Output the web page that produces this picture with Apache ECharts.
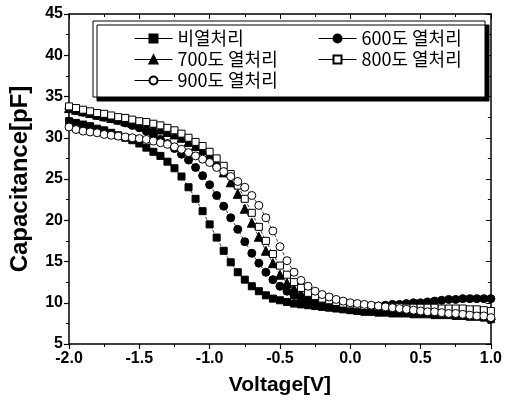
<!DOCTYPE html>
<html>
<head>
<meta charset="utf-8">
<script src="https://cdn.jsdelivr.net/npm/echarts@6/dist/echarts.min.js"></script>
<style>html,body{margin:0;padding:0;background:#fff}#c{width:505px;height:401px}</style>
</head>
<body>
<div id="c"></div>
<script>
var voltage = [-2.0,-1.95,-1.9,-1.85,-1.8,-1.75,-1.7,-1.65,-1.6,-1.55,-1.5,-1.45,-1.4,-1.35,-1.3,-1.25,-1.2,-1.15,-1.1,-1.05,-1.0,-0.95,-0.9,-0.85,-0.8,-0.75,-0.7,-0.65,-0.6,-0.55,-0.5,-0.45,-0.4,-0.35,-0.3,-0.25,-0.2,-0.15,-0.1,-0.05,0.0,0.05,0.1,0.15,0.2,0.25,0.3,0.35,0.4,0.45,0.5,0.55,0.6,0.65,0.7,0.75,0.8,0.85,0.9,0.95,1.0];

var seriesNames = ['비열처리','600도 열처리','700도 열처리','800도 열처리','900도 열처리'];

var noAnneal = [32.0,31.8,31.6,31.4,31.1,30.9,30.6,30.3,30.0,29.7,29.3,28.8,28.3,27.8,27.1,26.3,25.3,24.0,22.6,21.1,19.5,17.9,16.3,14.9,13.7,12.8,12.0,11.4,10.9,10.5,10.3,10.1,9.9,9.8,9.7,9.6,9.5,9.4,9.3,9.2,9.1,9.0,8.9,8.9,8.8,8.8,8.7,8.7,8.7,8.6,8.6,8.6,8.5,8.5,8.5,8.4,8.4,8.3,8.3,8.2,8.0];

var anneal600 = [33.5,33.3,33.1,32.9,32.7,32.5,32.3,32.1,31.8,31.5,31.2,30.8,30.3,29.8,29.3,28.7,28.0,27.3,26.4,25.4,24.3,23.0,21.7,20.3,18.9,17.4,16.0,14.8,13.7,12.8,12.0,11.4,10.9,10.5,10.2,10.0,9.8,9.7,9.6,9.5,9.5,9.5,9.5,9.5,9.6,9.7,9.8,9.8,9.9,10.0,10.0,10.1,10.2,10.3,10.4,10.4,10.5,10.5,10.5,10.5,10.5];

var anneal700 = [33.6,33.4,33.2,33.0,32.8,32.6,32.4,32.2,32.0,31.8,31.6,31.4,31.2,31.0,30.7,30.4,30.0,29.5,29.0,28.5,27.9,27.0,25.8,24.6,23.2,21.4,19.7,18.0,16.3,14.8,13.4,12.4,11.7,11.1,10.7,10.4,10.2,10.0,9.8,9.7,9.6,9.5,9.4,9.3,9.2,9.2,9.1,9.1,9.0,9.0,9.0,8.9,8.9,8.9,8.8,8.8,8.8,8.7,8.7,8.6,8.5];

var anneal800 = [33.8,33.6,33.4,33.2,33.0,32.9,32.7,32.5,32.4,32.2,32.0,31.9,31.7,31.5,31.2,30.9,30.5,30.0,29.5,29.0,28.3,27.5,26.6,25.6,24.2,22.6,20.9,19.2,17.5,15.9,14.5,13.4,12.5,11.8,11.2,10.8,10.5,10.3,10.1,9.9,9.8,9.7,9.6,9.6,9.5,9.5,9.5,9.5,9.4,9.4,9.4,9.4,9.4,9.3,9.3,9.3,9.3,9.2,9.2,9.1,9.0];

var anneal900 = [31.3,31.0,30.8,30.7,30.6,30.4,30.3,30.2,30.1,30.0,29.9,29.8,29.6,29.4,29.2,28.9,28.6,28.2,27.8,27.4,27.0,26.4,25.9,25.3,24.7,24.0,23.0,21.8,20.3,18.7,16.8,15.1,13.7,12.7,12.0,11.4,11.0,10.7,10.4,10.2,10.0,9.9,9.8,9.7,9.6,9.5,9.4,9.3,9.2,9.1,9.0,8.9,8.9,8.8,8.7,8.7,8.6,8.5,8.4,8.4,8.2];

var xTicks = ['-2.0','-1.5','-1.0','-0.5','0.0','0.5','1.0'];
var yTicks = [5,10,15,20,25,30,35,40,45];

var seriesValues = [noAnneal, anneal600, anneal700, anneal800, anneal900];
var symbols = ['rect','circle','triangle','rect','circle'];
var fills = ['#000','#000','#000','#fff','#fff'];
var sizes = [7,8,9,7,8];

function pairs(arr){ return voltage.map(function(v,i){ return [v, arr[i]]; }); }

var series = seriesNames.map(function(name, k){
  return {
    name: name,
    type: 'line',
    data: pairs(seriesValues[k]),
    symbol: symbols[k],
    symbolSize: sizes[k],
    showAllSymbol: true,
    itemStyle: { color: fills[k], borderColor: '#000', borderWidth: 1 },
    lineStyle: { color: '#000', width: 0.8, type: [3,2] },
    emphasis: { disabled: true },
    animation: false,
    z: 2 + k
  };
});

var font = 'Liberation Sans, Arial, sans-serif';
var legendText = { fontSize: 18, color: '#000', fontFamily: 'Noto Sans CJK KR, sans-serif', lineHeight: 21 };

var chart = echarts.init(document.getElementById('c'));
chart.setOption({
  backgroundColor: '#fff',
  animation: false,
  grid: { left: 68, right: 13, top: 14, bottom: 54 },
  xAxis: [{
    type: 'value', min: -2, max: 1, interval: 0.5,
    name: 'Voltage[V]', nameLocation: 'middle', nameGap: 31,
    nameTextStyle: { fontSize: 21, fontWeight: 'bold', fontFamily: font, color: '#000' },
    axisLine: { onZero: false, lineStyle: { color: '#000', width: 1.5 } },
    axisTick: { inside: false, length: 5, lineStyle: { color: '#000', width: 1.2 } },
    minorTick: { show: true, splitNumber: 2, length: 3, lineStyle: { color: '#000', width: 1 } },
    axisLabel: { fontSize: 16, fontWeight: 'bold', fontFamily: font, color: '#000', margin: 7,
      formatter: function(v){ var s = v.toFixed(1); return xTicks.indexOf(s) >= 0 ? s : ''; } },
    splitLine: { show: false }
  },{
    type: 'value', min: -2, max: 1, interval: 0.5, position: 'top',
    axisLine: { onZero: false, lineStyle: { color: '#000', width: 1.5 } },
    axisTick: { inside: true, length: 5, lineStyle: { color: '#000' } },
    minorTick: { show: true, splitNumber: 2, length: 3, lineStyle: { color: '#000' } },
    axisLabel: { show: false }, splitLine: { show: false }
  }],
  yAxis: [{
    type: 'value', min: 5, max: 45, interval: 5,
    name: 'Capacitance[pF]', nameLocation: 'middle', nameGap: 37,
    nameTextStyle: { fontSize: 24, fontWeight: 'bold', fontFamily: font, color: '#000' },
    axisLine: { onZero: false, lineStyle: { color: '#000', width: 1.5 } },
    axisTick: { inside: false, length: 5, lineStyle: { color: '#000', width: 1.2 } },
    minorTick: { show: true, splitNumber: 2, length: 3, lineStyle: { color: '#000', width: 1 } },
    axisLabel: { fontSize: 16, fontWeight: 'bold', fontFamily: font, color: '#000', margin: 6,
      formatter: function(v){ return yTicks.indexOf(v) >= 0 ? String(v) : ''; } },
    splitLine: { show: false }
  },{
    type: 'value', min: 5, max: 45, interval: 5, position: 'right',
    axisLine: { onZero: false, lineStyle: { color: '#000', width: 1.5 } },
    axisTick: { inside: true, length: 5, lineStyle: { color: '#000' } },
    minorTick: { show: true, splitNumber: 2, length: 3, lineStyle: { color: '#000' } },
    axisLabel: { show: false }, splitLine: { show: false }
  }],
  graphic: [{
    type: 'rect', z: 0,
    shape: { x: 93, y: 21, width: 392, height: 76 },
    style: { fill: '#fff', stroke: '#000', lineWidth: 1, shadowColor: '#000', shadowOffsetX: 4, shadowOffsetY: 4, shadowBlur: 0 }
  }],
  legend: [{
    orient: 'vertical', left: 129, top: 23, itemGap: 0, itemWidth: 38, itemHeight: 10,
    data: [seriesNames[0], seriesNames[2], seriesNames[4]],
    textStyle: legendText, lineStyle: { type: 'solid', width: 1 }, selectedMode: false
  },{
    orient: 'vertical', left: 313, top: 23, itemGap: 0, itemWidth: 38, itemHeight: 10,
    data: [seriesNames[1], seriesNames[3]],
    textStyle: legendText, lineStyle: { type: 'solid', width: 1 }, selectedMode: false
  }],
  series: series
});
</script>
</body>
</html>
